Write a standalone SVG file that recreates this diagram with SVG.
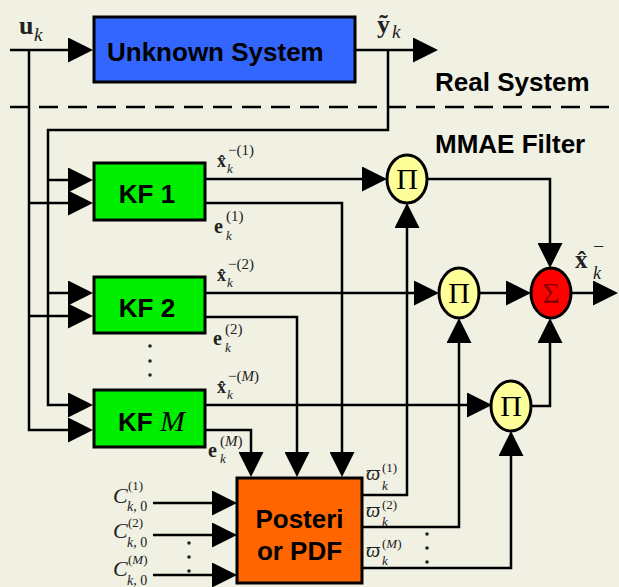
<svg xmlns="http://www.w3.org/2000/svg" width="619" height="587" viewBox="0 0 619 587">
<style>
.w{fill:none;stroke:#000;stroke-width:2.5;marker-end:url(#ah)}
.p{fill:none;stroke:#000;stroke-width:2.5}
.box{stroke:#000;stroke-width:3}
.lbl{font-family:"Liberation Sans",Arial,sans-serif;font-weight:bold;font-size:26px;fill:#000}
.m{font-family:"Liberation Serif","DejaVu Serif",serif;fill:#222}
.mb{font-weight:bold}
.mi{font-style:italic}
.sym{font-family:"Liberation Serif","DejaVu Serif",serif;font-size:30px;text-anchor:middle}
.dot{fill:#222}
</style>
<defs>
<marker id="ah" markerUnits="userSpaceOnUse" viewBox="0 0 25 25" markerWidth="25" markerHeight="25" refX="20" refY="12.5" orient="auto">
<path d="M0,0 L25,12.5 L0,25 z" fill="#000"/>
</marker>
</defs>
<rect width="619" height="587" fill="#f1f1e3"/>

<path class="p" d="M10,107 H619" stroke-dasharray="19 10"/>

<g id="connectors">
<path class="w" d="M10,50 H88"/>
<path class="w" d="M29,50 V430 H88"/>
<path class="w" d="M29,203 H88"/>
<path class="w" d="M29,316 H88"/>
<path class="w" d="M355,50 H433"/>
<path class="w" d="M388,50 V130 H48 V405 H88"/>
<path class="w" d="M48,180 H88"/>
<path class="w" d="M48,293 H88"/>
<path class="w" d="M206,179 H382"/>
<path class="w" d="M206,203 H342 V472"/>
<path class="w" d="M206,293 H434"/>
<path class="w" d="M206,317 H297 V472"/>
<path class="w" d="M206,405 H487"/>
<path class="w" d="M206,430 H251 V472"/>
<path class="w" d="M363,495 H407 V208"/>
<path class="w" d="M363,527 H459 V323"/>
<path class="w" d="M363,568 H511 V436"/>
<path class="w" d="M427,179 H550 V263"/>
<path class="w" d="M479,293 H526"/>
<path class="w" d="M531,406 H550 V323"/>
<path class="w" d="M571,293 H613"/>
<path class="w" d="M153,503 H232"/>
<path class="w" d="M153,535 H232"/>
<path class="w" d="M153,575 H232"/>
</g>

<g id="node-unknown">
<rect class="box" x="94" y="17" width="261" height="65" fill="#3366ff"/>
<text class="lbl" x="107" y="61">Unknown System</text>
</g>

<g id="node-kf1">
<rect class="box" x="94" y="163" width="111" height="57" fill="#00ee00"/>
<text class="lbl" x="147" y="203" text-anchor="middle">KF 1</text>
</g>
<g id="node-kf2">
<rect class="box" x="94" y="277" width="111" height="56" fill="#00ee00"/>
<text class="lbl" x="147" y="317" text-anchor="middle">KF 2</text>
</g>
<g id="node-kfm">
<rect class="box" x="94" y="390" width="111" height="57" fill="#00ee00"/>
<text class="lbl" x="118" y="431">KF <tspan font-family="'Liberation Serif',serif" font-style="italic" font-weight="normal" font-size="30">M</tspan></text>
</g>

<g id="node-pi1">
<ellipse class="box" cx="407" cy="179" rx="20" ry="24" fill="#ffff99" stroke-width="2.5"/>
<text class="sym" x="407" y="189">Π</text>
</g>
<g id="node-pi2">
<ellipse class="box" cx="459" cy="293" rx="20" ry="25" fill="#ffff99" stroke-width="2.5"/>
<text class="sym" x="459" y="303">Π</text>
</g>
<g id="node-pim">
<ellipse class="box" cx="511" cy="406" rx="20" ry="25" fill="#ffff99" stroke-width="2.5"/>
<text class="sym" x="511" y="416">Π</text>
</g>
<g id="node-sum">
<ellipse class="box" cx="551" cy="293" rx="20" ry="25" fill="#ff0000" stroke-width="2.5"/>
<text class="sym" x="551" y="303" fill="#8a0000">Σ</text>
</g>

<g id="node-posterior">
<rect class="box" x="237" y="478" width="125" height="105" fill="#ff6600"/>
<text class="lbl" x="299.5" y="528" text-anchor="middle">Posteri</text>
<text class="lbl" x="299.5" y="560" text-anchor="middle">or PDF</text>
</g>

<g id="labels">
<text class="lbl" x="435" y="91">Real System</text>
<text class="lbl" x="435" y="153">MMAE Filter</text>

<text class="m mb" x="19" y="34" font-size="26">u</text>
<text class="m mi" x="34" y="41" font-size="19">k</text>

<text class="m mb" x="377" y="33" font-size="26">ỹ</text>
<text class="m mi" x="392" y="38" font-size="19">k</text>

<text class="m mb" x="217" y="167" font-size="18">x̂</text>
<text class="m mi" x="227" y="173" font-size="13">k</text>
<text class="m" x="228" y="155" font-size="15">−(1)</text>

<text class="m mb" x="217" y="281" font-size="18">x̂</text>
<text class="m mi" x="227" y="287" font-size="13">k</text>
<text class="m" x="228" y="269" font-size="15">−(2)</text>

<text class="m mb" x="217" y="393" font-size="18">x̂</text>
<text class="m mi" x="227" y="399" font-size="13">k</text>
<text class="m" x="228" y="381" font-size="15">−(<tspan font-style="italic">M</tspan>)</text>

<text class="m mb" x="214" y="233" font-size="20">e</text>
<text class="m mi" x="226" y="240" font-size="13">k</text>
<text class="m" x="226" y="221" font-size="15">(1)</text>

<text class="m mb" x="213" y="345" font-size="20">e</text>
<text class="m mi" x="225" y="352" font-size="13">k</text>
<text class="m" x="225" y="334" font-size="15">(2)</text>

<text class="m mb" x="208" y="457" font-size="20">e</text>
<text class="m mi" x="220" y="463" font-size="13">k</text>
<text class="m" x="220" y="446" font-size="15">(<tspan font-style="italic">M</tspan>)</text>

<text class="m mb" x="575" y="268" font-size="25">x̂</text>
<text class="m" x="593" y="253" font-size="20">−</text>
<text class="m mi" x="593" y="279" font-size="18">k</text>

<text class="m mi" x="113" y="503" font-size="22">C</text>
<text class="m" x="128" y="490" font-size="13">(1)</text>
<text class="m" x="127" y="511" font-size="14"><tspan font-style="italic">k</tspan>, 0</text>

<text class="m mi" x="113" y="538" font-size="22">C</text>
<text class="m" x="128" y="527" font-size="13">(2)</text>
<text class="m" x="127" y="547" font-size="14"><tspan font-style="italic">k</tspan>, 0</text>

<text class="m mi" x="113" y="576" font-size="22">C</text>
<text class="m" x="128" y="564" font-size="13">(<tspan font-style="italic">M</tspan>)</text>
<text class="m" x="127" y="585" font-size="14"><tspan font-style="italic">k</tspan>, 0</text>

<text class="m mi" x="366" y="480" font-size="20">ϖ</text>
<text class="m" x="382" y="472" font-size="13">(1)</text>
<text class="m mi" x="382" y="490" font-size="13">k</text>

<text class="m mi" x="366" y="517" font-size="20">ϖ</text>
<text class="m" x="382" y="509" font-size="13">(2)</text>
<text class="m mi" x="382" y="526" font-size="13">k</text>

<text class="m mi" x="366" y="557" font-size="20">ϖ</text>
<text class="m" x="382" y="548" font-size="13">(<tspan font-style="italic">M</tspan>)</text>
<text class="m mi" x="382" y="565" font-size="13">k</text>

<circle class="dot" cx="150" cy="346" r="1.8"/>
<circle class="dot" cx="150" cy="361" r="1.8"/>
<circle class="dot" cx="150" cy="375" r="1.8"/>
<circle class="dot" cx="189" cy="543" r="1.8"/>
<circle class="dot" cx="189" cy="557" r="1.8"/>
<circle class="dot" cx="189" cy="571" r="1.8"/>
<circle class="dot" cx="427" cy="534" r="1.8"/>
<circle class="dot" cx="427" cy="548" r="1.8"/>
<circle class="dot" cx="427" cy="562" r="1.8"/>
</g>
</svg>
